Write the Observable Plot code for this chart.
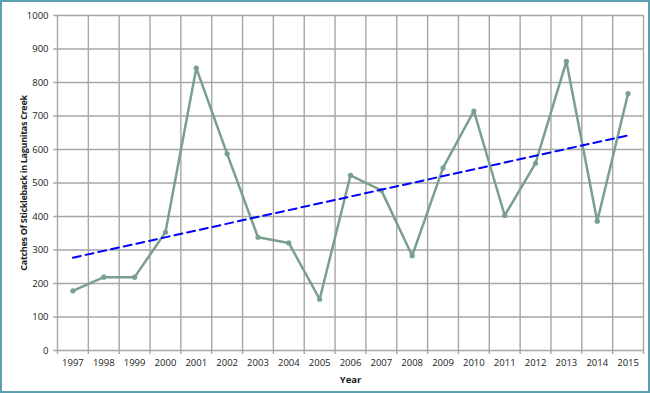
<!DOCTYPE html>
<html>
<head>
<meta charset="utf-8">
<script src="https://cdn.jsdelivr.net/npm/d3@7"></script>
<script src="https://cdn.jsdelivr.net/npm/@observablehq/plot@0.6"></script>
<style>
  html, body { margin: 0; padding: 0; background: #fff; }
  #chart { width: 650px; height: 393px; position: relative; }
  #chart svg { display: block; outline: 2px solid #5a9fb2; outline-offset: -2px; }
</style>
</head>
<body>
<div id="chart"></div>
<script>
const years = [1997,1998,1999,2000,2001,2002,2003,2004,2005,2006,2007,2008,2009,2010,2011,2012,2013,2014,2015];
const catches = [178,219,219,353,843,587,338,321,153,523,478,283,545,715,403,559,863,386,767];
const yTicks = [0,100,200,300,400,500,600,700,800,900,1000];
const xTitle = "Year";
const yTitle = "Catches Of Stickleback in Lagunitas Creek";

const data = years.map((year, i) => ({year, catches: catches[i]}));
const xMin = years[0] - 0.5, xMax = years[years.length - 1] + 0.5;
const bounds = d3.range(xMin, xMax + 0.01, 1);

const grid = "#a6a6a6";
const font = "'Open Sans', sans-serif";

const chart = Plot.plot({
  width: 650,
  height: 393,
  marginLeft: 57,
  marginRight: 7,
  marginTop: 15,
  marginBottom: 43,
  style: {fontFamily: font, fontSize: "9.5px", color: "#1a1a1a", background: "white"},
  x: {domain: [xMin, xMax]},
  y: {domain: [0, 1000]},
  marks: [
    Plot.ruleY(yTicks, {x1: xMin - 0.12, x2: xMax, stroke: grid, strokeWidth: 1.4}),
    Plot.ruleX(bounds, {y1: -12, y2: 1000, stroke: grid, strokeWidth: 1.4}),
    Plot.axisY(yTicks, {tickSize: 0, tickPadding: 9, tickFormat: d => String(d), label: yTitle, labelAnchor: "center", labelArrow: "none", labelOffset: 37}),
    Plot.axisX(years, {tickSize: 0, tickPadding: 9, tickFormat: d => String(d), label: xTitle, labelAnchor: "center", labelArrow: "none", labelOffset: 32}),
    Plot.line(data, {x: "year", y: "catches", stroke: "#78a08c", strokeWidth: 2.5}),
    Plot.dot(data, {x: "year", y: "catches", r: 2.6, fill: "#78a08c", stroke: "none"}),
    Plot.linearRegressionY(data, {x: "year", y: "catches", ci: 0, stroke: "#0000ff", strokeWidth: 2, strokeDasharray: "8,5"})
  ]
});
document.getElementById("chart").appendChild(chart);
chart.querySelectorAll("[aria-label='y-axis label'], [aria-label='x-axis label']").forEach(g => {
  g.setAttribute("font-weight", "bold");
  g.style.fontWeight = "bold";
});
const yl = chart.querySelector("[aria-label='y-axis label']");
if (yl) { yl.style.fontSize = "9px"; yl.style.letterSpacing = "-0.3px"; }
</script>
</body>
</html>
